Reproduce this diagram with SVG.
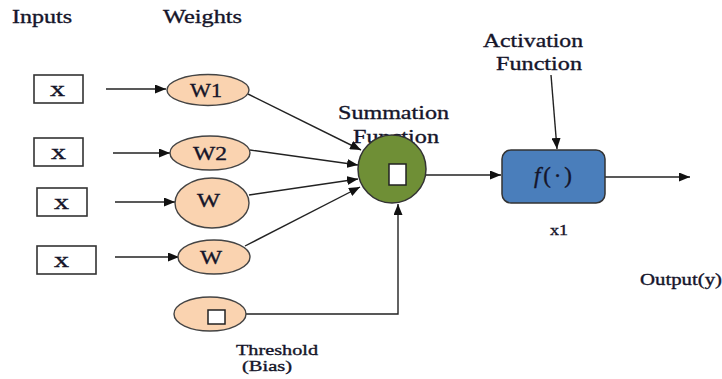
<svg xmlns="http://www.w3.org/2000/svg" width="722" height="379" viewBox="0 0 722 379">
<defs>
<marker id="ah" markerUnits="userSpaceOnUse" markerWidth="11" markerHeight="9" refX="11" refY="4.5" orient="auto">
<path d="M0,0 L11,4.5 L0,9 z" fill="#111"/>
</marker>
<style>
text{font-family:"Liberation Serif","Times New Roman",serif;fill:#15152a;stroke:#15152a;stroke-width:0.35;}
.lbl{font-size:19px;}
.in{fill:#fff;stroke:#333;stroke-width:1.6;}
.w{fill:#FAD3B0;stroke:#444;stroke-width:1.4;}
.c{stroke:#222;stroke-width:1.4;fill:none;}
.a{marker-end:url(#ah);}
</style>
</defs>
<rect width="722" height="379" fill="#fff"/>
<g id="titles">
<text class="lbl" x="12" y="23" textLength="60" lengthAdjust="spacingAndGlyphs">Inputs</text>
<text class="lbl" x="163" y="23" textLength="79" lengthAdjust="spacingAndGlyphs">Weights</text>
</g>
<g id="connectors">
<line class="c a" x1="106" y1="89" x2="166" y2="89"/>
<line class="c a" x1="113" y1="153" x2="170" y2="153"/>
<line class="c a" x1="115" y1="202" x2="175" y2="202"/>
<line class="c a" x1="115" y1="257" x2="179" y2="257"/>
<line class="c a" x1="248" y1="94" x2="361" y2="150"/>
<line class="c a" x1="250" y1="150" x2="358" y2="165"/>
<line class="c a" x1="249" y1="195" x2="358" y2="179"/>
<line class="c a" x1="245" y1="246" x2="360" y2="187"/>
<polyline class="c a" points="245,314 398,314 398,204"/>
<line class="c a" x1="426" y1="175" x2="501" y2="175"/>
<line class="c a" x1="605" y1="177" x2="690" y2="177"/>
<line class="c a" x1="551" y1="75" x2="557" y2="149"/>
</g>
<g id="input1"><rect class="in" x="34" y="75" width="49" height="28"/><text x="50" y="96" font-size="21" textLength="15" lengthAdjust="spacingAndGlyphs">x</text></g>
<g id="input2"><rect class="in" x="34" y="138" width="49" height="28"/><text x="51" y="159" font-size="21" textLength="15" lengthAdjust="spacingAndGlyphs">x</text></g>
<g id="input3"><rect class="in" x="37" y="188" width="50" height="28"/><text x="54" y="209" font-size="21" textLength="15" lengthAdjust="spacingAndGlyphs">x</text></g>
<g id="input4"><rect class="in" x="37" y="246" width="59" height="28"/><text x="54" y="267" font-size="21" textLength="15" lengthAdjust="spacingAndGlyphs">x</text></g>
<g id="w1"><ellipse class="w" cx="208" cy="90" rx="41" ry="15.5"/><text class="lbl" x="190" y="97" textLength="32" lengthAdjust="spacingAndGlyphs">W1</text></g>
<g id="w2"><ellipse class="w" cx="210" cy="153" rx="40" ry="17"/><text class="lbl" x="193" y="160" textLength="34" lengthAdjust="spacingAndGlyphs">W2</text></g>
<g id="w3"><ellipse class="w" cx="212" cy="203" rx="37" ry="25"/><text class="lbl" x="197" y="207" textLength="23" lengthAdjust="spacingAndGlyphs">W</text></g>
<g id="w4"><ellipse class="w" cx="214" cy="257" rx="36" ry="17"/><text class="lbl" x="200" y="264" textLength="22" lengthAdjust="spacingAndGlyphs">W</text></g>
<g id="bias"><ellipse class="w" cx="210" cy="314" rx="36" ry="17"/><rect x="208" y="310" width="17" height="14" fill="#fff" stroke="#222" stroke-width="1.5"/>
<text x="236" y="355" font-size="15" textLength="82" lengthAdjust="spacingAndGlyphs">Threshold</text>
<text x="242" y="371" font-size="15" textLength="50" lengthAdjust="spacingAndGlyphs">(Bias)</text></g>
<g id="summation">
<text class="lbl" x="338" y="119" textLength="111" lengthAdjust="spacingAndGlyphs">Summation</text>
<text class="lbl" x="353" y="143" textLength="86" lengthAdjust="spacingAndGlyphs">Function</text>
<circle cx="392" cy="169" r="34" fill="#6F8F36" stroke="#333" stroke-width="1.5"/>
<rect x="389" y="164" width="17" height="21" fill="#fff" stroke="#222" stroke-width="1.5"/>
</g>
<g id="activation">
<text class="lbl" x="483" y="47" textLength="100" lengthAdjust="spacingAndGlyphs">Activation</text>
<text class="lbl" x="496" y="70" textLength="86" lengthAdjust="spacingAndGlyphs">Function</text>
<rect x="502" y="150" width="103" height="53" rx="9" fill="#4A7EBB" stroke="#333" stroke-width="1.5"/>
<text x="534" y="183" font-size="23" textLength="38" lengthAdjust="spacing" fill="#111"><tspan font-style="italic">f</tspan>(·)</text>
<text x="550" y="235" font-size="14" textLength="18" lengthAdjust="spacingAndGlyphs">x1</text>
</g>
<g id="output">
<text x="640" y="285" font-size="16" textLength="82" lengthAdjust="spacingAndGlyphs">Output(y)</text>
</g>
</svg>
